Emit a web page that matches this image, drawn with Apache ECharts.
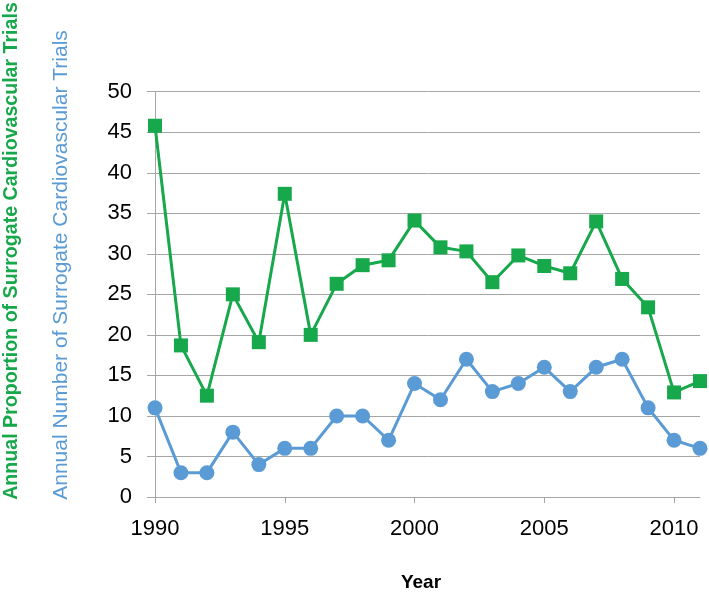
<!DOCTYPE html>
<html>
<head>
<meta charset="utf-8">
<script src="https://cdn.jsdelivr.net/npm/echarts@6/dist/echarts.min.js"></script>
<style>
html,body{margin:0;padding:0;background:#fff;}
#chart{width:709px;height:598px;}
</style>
</head>
<body>
<div id="chart"></div>
<script>
const years = [1990,1991,1992,1993,1994,1995,1996,1997,1998,1999,2000,2001,2002,2003,2004,2005,2006,2007,2008,2009,2010,2011];
const proportion = [45.8,18.7,12.5,25.0,19.1,37.4,20.0,26.3,28.6,29.2,34.1,30.8,30.3,26.5,29.8,28.5,27.6,34.0,26.9,23.4,12.9,14.3];
const number = [11,3,3,8,4,6,6,10,10,7,14,12,17,13,14,16,13,16,17,11,7,6];
const xTicks = [1990,1995,2000,2005,2010];
const yTicks = [0,5,10,15,20,25,30,35,40,45,50];

const green = '#17a84b';
const blue = '#5b9bd5';
const gridGray = '#a6a6a6';
const font = '"Liberation Sans", Arial, sans-serif';

const chart = echarts.init(document.getElementById('chart'));
chart.setOption({
  animation: false,
  backgroundColor: '#fff',
  grid: {left: 155, right: 9, top: 91.7, bottom: 101, containLabel: false},
  xAxis: {
    type: 'value', min: 1990, max: 2011,
    axisLine: {show: true, lineStyle: {color: gridGray, width: 1}},
    axisTick: {show: true, length: 6, lineStyle: {color: gridGray}, customValues: xTicks},
    axisLabel: {color: '#000', fontSize: 22, fontFamily: font, margin: 21, customValues: xTicks,
      formatter: v => String(v)},
    splitLine: {show: false}
  },
  yAxis: {
    type: 'value', min: 0, max: 50, interval: 5,
    axisLine: {show: true, lineStyle: {color: gridGray, width: 1}},
    axisTick: {show: true, length: 8, lineStyle: {color: gridGray}},
    axisLabel: {color: '#000', fontSize: 22, fontFamily: font, margin: 23,
      customValues: yTicks, formatter: v => String(v)},
    splitLine: {show: true, lineStyle: {color: gridGray, width: 1}}
  },
  series: [
    {
      type: 'line', name: 'Number',
      data: years.map((y,i)=>[y, number[i]]),
      symbol: 'circle', symbolSize: 15,
      itemStyle: {color: blue},
      lineStyle: {color: blue, width: 3}
    },
    {
      type: 'line', name: 'Proportion',
      data: years.map((y,i)=>[y, proportion[i]]),
      symbol: 'rect', symbolSize: 14,
      itemStyle: {color: green},
      lineStyle: {color: green, width: 3}
    }
  ],
  graphic: [
    {type: 'text', x: 12, y: 251, rotation: Math.PI/2,
      style: {text: 'Annual Proportion of Surrogate Cardiovascular Trials', fill: green,
        font: 'bold 19.6px ' + font, textAlign: 'center', textVerticalAlign: 'middle'}},
    {type: 'text', x: 61, y: 265, rotation: Math.PI/2,
      style: {text: 'Annual Number of Surrogate Cardiovascular Trials', fill: blue,
        font: '21px ' + font, textAlign: 'center', textVerticalAlign: 'middle'}},
    {type: 'text', x: 421, y: 583,
      style: {text: 'Year', fill: '#000', font: 'bold 19px ' + font,
        textAlign: 'center', textVerticalAlign: 'middle'}}
  ]
});
</script>
</body>
</html>
